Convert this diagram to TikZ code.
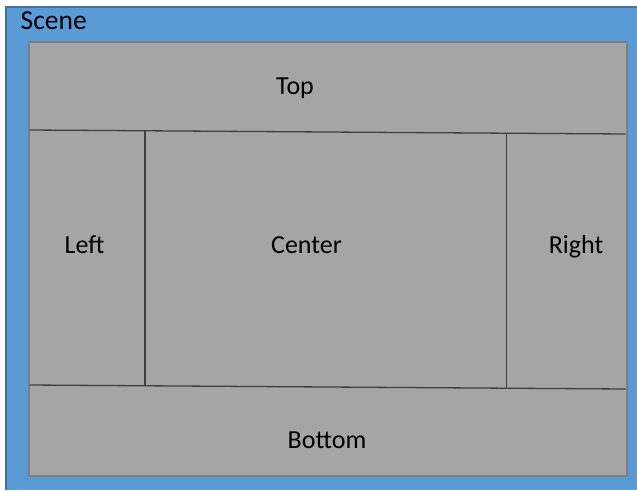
\documentclass[tikz,border=0pt]{standalone}
\usepackage{fontspec}
\setmainfont{Carlito}
\definecolor{sceneblue}{HTML}{5B9BD5}
\definecolor{sceneedge}{HTML}{41719C}
\definecolor{panelgray}{HTML}{A5A5A5}
\definecolor{paneledge}{HTML}{7F7F7F}
\definecolor{divline}{HTML}{3F3F3F}
\tikzset{
  lbl/.style={anchor=base, inner sep=0pt, font=\fontsize{26}{31}\selectfont},
  divider/.style={draw=divline, line width=1.3pt},
}
\begin{document}
\begin{tikzpicture}[x=1pt,y=-1pt]
\useasboundingbox (0,0) rectangle (637,490);
\fill[white] (0,0) rectangle (637,490);
% scene
\fill[sceneblue] (6,7) rectangle (637,490);
\draw[sceneedge, line width=2pt] (6,490) -- (6,7) -- (637,7);
% panel
\draw[fill=panelgray, draw=paneledge, line width=2pt] (28.5,41.5) rectangle (626.5,475.5);
% divider points
\coordinate (tl) at (29.5,130);
\coordinate (tr) at (625.5,134);
\coordinate (bl) at (29.5,385);
\coordinate (br) at (625.5,389);
\coordinate (lt) at (145,130.2);
\coordinate (lb) at (145,385.2);
\coordinate (rt) at (506.5,133.2);
\coordinate (rb) at (506.5,388.2);
\draw[divider] (tl) -- (tr);
\draw[divider] (bl) -- (br);
\draw[divider] (lt) -- (lb);
\draw[divider] (rt) -- (rb);
% labels
\node[lbl, anchor=base west, font=\fontsize{27.5}{32}\selectfont] (scene) at (20.5,29) {Scene};
\node[lbl] (top) at (295,94) {Top};
\node[lbl] (left) at (84.5,253) {Left};
\node[lbl] (center) at (306.5,253) {Center};
\node[lbl] (right) at (576,253) {Right};
\node[lbl] (bottom) at (327,448) {Bottom};
\end{tikzpicture}
\end{document}
